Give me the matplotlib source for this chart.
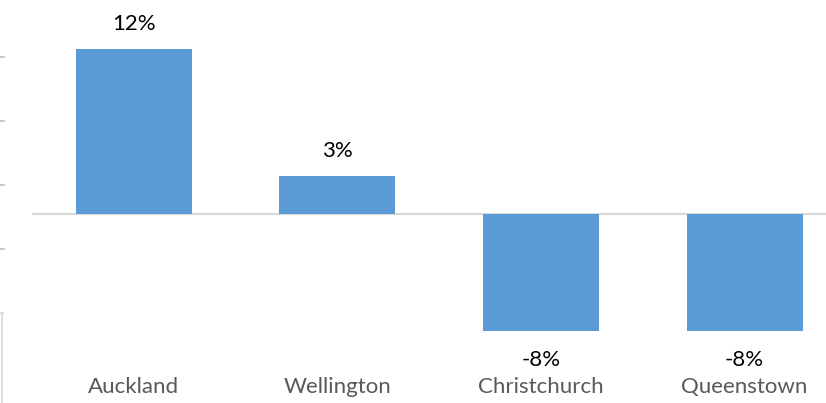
import matplotlib
matplotlib.use("Agg")
import matplotlib.pyplot as plt
from matplotlib.lines import Line2D

cities = ["Auckland", "Wellington", "Christchurch", "Queenstown"]
values = [12.0, 2.8, -8.5, -8.5]
labels = ["12%", "3%", "-8%", "-8%"]

W, H = 826, 403
fig = plt.figure(figsize=(W / 100, H / 100), dpi=100)
plt.rcParams['font.family'] = ['Lato', 'DejaVu Sans']

# axes in pixel units
left_px, right_px, top_px, bot_px = 32, 826, 20, 372
ax = fig.add_axes([left_px / W, 1 - bot_px / H, (right_px - left_px) / W, (bot_px - top_px) / H])

zero_px = 214
ppu = 13.75
ax.set_ylim((zero_px - bot_px) / ppu, (zero_px - top_px) / ppu)
ax.set_xlim(-0.5, 3.40)

x = list(range(len(cities)))
ax.bar(x, values, width=0.57, color="#5B9BD5", zorder=2)
ax.axhline(0, color="#D9D9D9", lw=1.5, zorder=1)

for xi, v, lab in zip(x, values, labels):
    if v >= 0:
        ax.annotate(lab, (xi, v), xytext=(0, 18), textcoords="offset points",
                    ha="center", va="center", fontsize=16, color="#000000")
    else:
        ax.annotate(lab, (xi, v), xytext=(0, -21), textcoords="offset points",
                    ha="center", va="center", fontsize=16, color="#000000")

ax.set_xticks(x)
ax.set_xticklabels(cities, fontsize=16, color="#595959")
ax.tick_params(axis="x", length=0, pad=3.5)
ax.set_yticks([])
for s in ax.spines.values():
    s.set_visible(False)
ax.patch.set_alpha(0)

# fragments of neighbouring chart at the left edge
for ypx in [57, 121, 185, 249]:
    fig.add_artist(Line2D([0, 4 / W], [1 - ypx / H] * 2, color="#BFBFBF", lw=1.2))
fig.add_artist(Line2D([2 / W, 2 / W], [1 - 313 / H, 0], color="#D9D9D9", lw=1.2))
fig.add_artist(Line2D([0, 3 / W], [1 - 313 / H] * 2, color="#D9D9D9", lw=1.2))

fig.savefig("out.png", dpi=100)
